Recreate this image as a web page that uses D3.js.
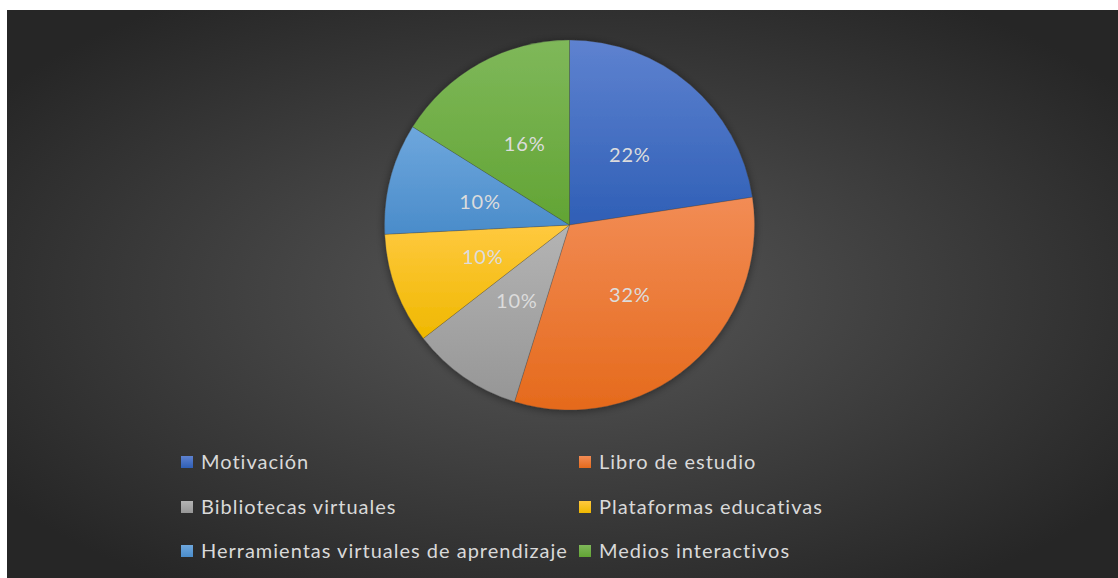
<!DOCTYPE html>
<meta charset="utf-8">
<script src="https://d3js.org/d3.v7.min.js"></script>
<style>
  body { margin: 0; background: #fff; }
  text { font-family: Lato, "Open Sans", sans-serif; }
</style>
<body>
<div id="chart"></div>
</body>
<script>

// data
var categories = ["Motivación", "Libro de estudio", "Bibliotecas virtuales",
                  "Plataformas educativas", "Herramientas virtuales de aprendizaje", "Medios interactivos"];
var values = [22.6, 32.2, 9.7, 9.7, 9.7, 16.1];
var labels = ["22%", "32%", "10%", "10%", "10%", "16%"];
var colorsTop = ["#5e82d0", "#f28c55", "#b4b4b4", "#ffc93f", "#6ea7dd", "#7fb85a"];
var colorsBottom = ["#2f5fb6", "#e56a1c", "#969696", "#efb800", "#4a8cca", "#62a434"];

var W = 1118, H = 578;
var svg = d3.select("#chart").append("svg")
    .attr("width", W)
    .attr("height", H);

var defs = svg.append("defs");

// dark radial background
var bg = defs.append("radialGradient").attr("id", "bg")
    .attr("cx", "50%").attr("cy", "50%").attr("r", "62%");
bg.append("stop").attr("offset", "0%").attr("stop-color", "#585858");
bg.append("stop").attr("offset", "100%").attr("stop-color", "#262626");

svg.append("rect")
    .attr("x", 7).attr("y", 10)
    .attr("width", W - 7).attr("height", H - 10)
    .attr("fill", "url(#bg)");

// per slice vertical gradients
categories.forEach(function (c, i) {
    var g = defs.append("linearGradient").attr("id", "g" + i)
        .attr("x1", 0).attr("y1", 0).attr("x2", 0).attr("y2", 1);
    g.append("stop").attr("offset", "0%").attr("stop-color", colorsTop[i]);
    g.append("stop").attr("offset", "100%").attr("stop-color", colorsBottom[i]);
});

var shadow = defs.append("filter").attr("id", "shadow")
    .attr("x", "-20%").attr("y", "-20%").attr("width", "140%").attr("height", "140%");
shadow.append("feDropShadow")
    .attr("dx", 0).attr("dy", 1)
    .attr("stdDeviation", 4)
    .attr("flood-color", "#000")
    .attr("flood-opacity", 0.45);

// pie
var cx = 569.5, cy = 225, radius = 185;

var pie = d3.pie().sort(null).value(function (d) { return d; });
var arc = d3.arc().innerRadius(0).outerRadius(radius);

var g = svg.append("g")
    .attr("transform", "translate(" + cx + "," + cy + ")");

g.append("g")
    .attr("filter", "url(#shadow)")
    .selectAll("path")
    .data(pie(values))
    .enter()
    .append("path")
    .attr("d", arc)
    .attr("fill", function (d, i) { return "url(#g" + i + ")"; })
    .attr("stroke", "rgba(60,60,60,0.35)")
    .attr("stroke-width", 0.75);

g.selectAll(".lbl")
    .data(pie(values))
    .enter()
    .append("text")
    .attr("class", "lbl")
    .attr("transform", function (d) { return "translate(" + arc.centroid(d) + ")"; })
    .attr("text-anchor", "middle")
    .attr("dy", "0.36em")
    .attr("fill", "#dcdcdc")
    .style("font-size", "20px")
    .style("letter-spacing", "0.8px")
    .text(function (d, i) { return labels[i]; });

// legend, two columns
var colX = [181, 579], rowY = [462, 507, 551];
var legend = svg.selectAll(".leg")
    .data(categories)
    .enter()
    .append("g")
    .attr("class", "leg")
    .attr("transform", function (d, i) {
        return "translate(" + colX[i % 2] + "," + rowY[Math.floor(i / 2)] + ")";
    });

legend.append("rect")
    .attr("x", 0).attr("y", -6)
    .attr("width", 12).attr("height", 12)
    .attr("fill", function (d, i) { return "url(#g" + i + ")"; });

legend.append("text")
    .attr("x", 20)
    .attr("y", 0)
    .attr("dy", "0.36em")
    .attr("fill", "#d9d9d9")
    .style("font-size", "20px")
    .style("letter-spacing", "1px")
    .text(function (d) { return d; });

</script>
